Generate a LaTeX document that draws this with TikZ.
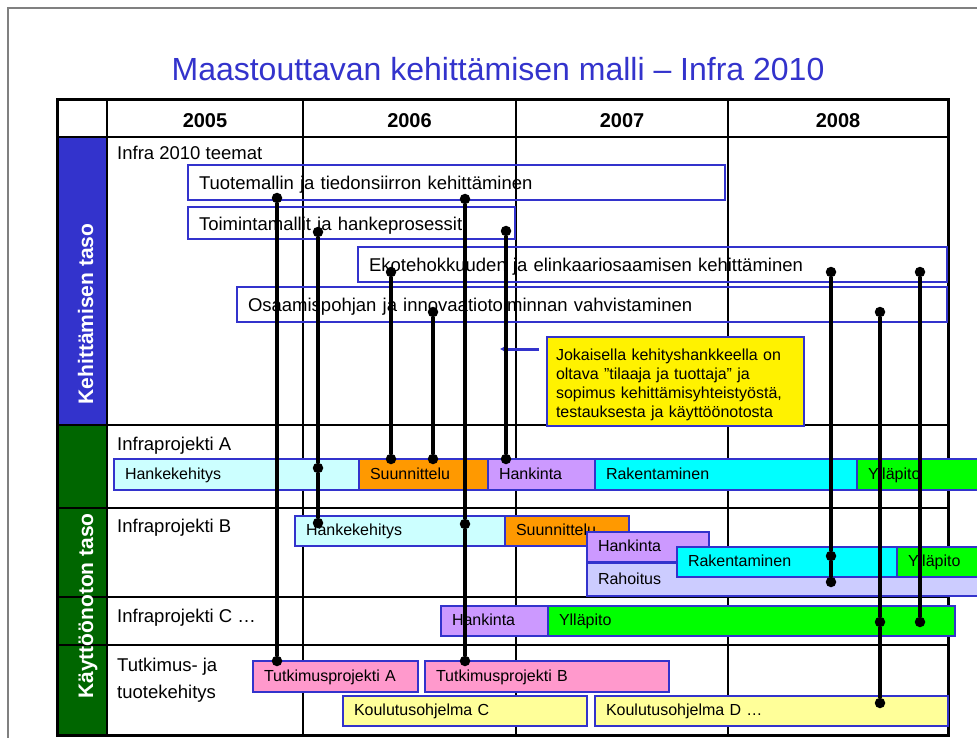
\documentclass[tikz,border=0pt]{standalone}
\usepackage{fontspec}
\setmainfont{Liberation Sans}
\usetikzlibrary{arrows.meta,positioning}
\definecolor{sininen}{HTML}{3333CC}
\definecolor{vihrea}{HTML}{006600}
\definecolor{kehys}{HTML}{808080}
\definecolor{hkvari}{HTML}{CCFFFF}
\definecolor{suvari}{HTML}{FF9900}
\definecolor{havari}{HTML}{CC99FF}
\definecolor{ravari}{HTML}{00FFFF}
\definecolor{ylvari}{HTML}{00FF00}
\definecolor{rhvari}{HTML}{CCCCFF}
\definecolor{tkvari}{HTML}{FF99CC}
\definecolor{kovari}{HTML}{FFFF99}
\begin{document}
\begin{tikzpicture}[x=1pt, y=-1pt,
  ruudukko/.style={line width=1.5pt},
  teema/.style={draw=sininen, line width=1.8pt, anchor=north west, outer sep=0pt,
    inner xsep=11pt, inner ysep=0pt, align=left, text height=14pt, text depth=0pt,
    font=\fontsize{18.5}{22}\selectfont},
  vaihe/.style={draw=sininen, line width=1.4pt, anchor=north west, outer sep=0pt,
    inner xsep=11pt, inner ysep=0pt, align=left, text height=11pt, text depth=2pt,
    font=\fontsize{16}{19}\selectfont},
  rivi/.style={anchor=base west, inner sep=0pt, font=\fontsize{18.5}{22}\selectfont},
  vuosi/.style={anchor=base, inner sep=0pt, font=\bfseries\fontsize{20}{24}\selectfont},
  taso/.style={rotate=90, anchor=base, inner sep=0pt, text=white,
    font=\bfseries\fontsize{21}{24}\selectfont},
  piste/.style={circle, fill=black, inner sep=0pt, minimum size=10.5pt},
  yhteys/.style={line width=4pt},
  osoitin/.style={sininen, line width=3pt, shorten <=8pt, -{Latex[length=6pt,width=8pt]}}]
  \clip (0,0) rectangle (977,738);
  \fill[white] (0,0) rectangle (977,738);
  % kehys ja otsikko
  \draw[kehys, line width=2.5pt] (977,8) -- (8,8) -- (8,738);
  \node[anchor=base, text=sininen, font=\fontsize{32}{36}\selectfont] (otsikko) at (498,81)
    {Maastouttavan kehittämisen malli – Infra 2010};
  % tasot
  \fill[sininen] (57,137) rectangle (107,425);
  \fill[vihrea] (57,425) rectangle (107,735);
  % taulukko
  \foreach \y in {137,425,508,597,645}
    \draw[ruudukko] (57,\y) -- (948,\y);
  \foreach \x in {107,303,516,728}
    \draw[ruudukko] (\x,100) -- (\x,735);
  \draw[line width=3pt] (57,100) rectangle (948,735);
  \node[taso] (kehTaso) at (93,314) {Kehittämisen taso};
  \node[taso] (kayTaso) at (93,606) {Käyttöönoton taso};
  \foreach \x/\v in {205/2005, 409.5/2006, 622/2007, 838/2008}
    \node[vuosi] (v\v) at (\x,128) {\v};
  % rivien otsikot
  \node[rivi] (lTeemat) at (117,160) {Infra 2010 teemat};
  \node[rivi] (lA) at (117,450) {Infraprojekti A};
  \node[rivi] (lB) at (117,532) {Infraprojekti B};
  \node[rivi] (lC) at (117,622) {Infraprojekti C …};
  \node[rivi] (lT1) at (117,671) {Tutkimus- ja};
  \node[rivi] (lT2) at (117,698) {tuotekehitys};
  % teemat
  \node[teema, text width=515pt, minimum height=35pt] (th1) at (188,165)
    {Tuotemallin ja tiedonsiirron kehittäminen};
  \node[teema, text width=305pt, minimum height=32pt] (th2) at (188,207)
    {Toimintamallit ja hankeprosessit};
  \node[teema, text width=567pt, minimum height=35pt] (th3) at (358,247)
    {Ekotehokkuuden ja elinkaariosaamisen kehittäminen};
  \node[teema, text width=688pt, minimum height=35pt] (th4) at (237,287)
    {Osaamispohjan ja innovaatiotoiminnan vahvistaminen};
  % huomautus
  \node[draw=sininen, line width=1.4pt, fill=yellow, anchor=north west, outer sep=0pt,
    inner xsep=9pt, text width=239pt, minimum height=89pt, align=left,
    text height=15pt, text depth=58pt,
    font=\fontsize{16}{19}\selectfont] (note) at (547,337)
    {Jokaisella kehityshankkeella on\\oltava ”tilaaja ja tuottaja”  ja\\
     sopimus kehittämisyhteistyöstä,\\testauksesta ja käyttöönotosta};
  \coordinate (noteTip) at (500,349);
  \draw[osoitin] (note.west |- noteTip) -- (noteTip);
  % Infraprojekti A
  \node[vaihe, fill=hkvari, text width=223pt, minimum height=31pt] (aHk) at (114,459) {Hankekehitys};
  \node[vaihe, fill=suvari, text width=107pt, minimum height=31pt, right=0pt of aHk] (aSu) {Suunnittelu};
  \node[vaihe, fill=havari, text width=85pt, minimum height=31pt, right=0pt of aSu] (aHa) {Hankinta};
  \node[vaihe, fill=ravari, text width=240pt, minimum height=31pt, right=0pt of aHa] (aRa) {Rakentaminen};
  \node[vaihe, fill=ylvari, text width=111pt, minimum height=31pt, right=0pt of aRa] (aYl) {Ylläpito};
  % Infraprojekti B
  \node[vaihe, fill=hkvari, text width=188pt, minimum height=30pt] (bHk) at (295,516) {Hankekehitys};
  \node[vaihe, fill=suvari, text width=102pt, minimum height=30pt, right=0pt of bHk] (bSu) {Suunnittelu};
  \node[vaihe, fill=havari, text width=100pt, minimum height=30pt] (bHa) at (587,532) {Hankinta};
  \node[vaihe, fill=rhvari, text width=381pt, minimum height=33pt] (bRh) at (587,563) {Rahoitus};
  \node[vaihe, fill=ravari, text width=198pt, minimum height=30pt] (bRa) at (677,547) {Rakentaminen};
  \node[vaihe, fill=ylvari, text width=71pt, minimum height=30pt, right=0pt of bRa] (bYl) {Ylläpito};
  % Infraprojekti C
  \node[vaihe, fill=havari, text width=85pt, minimum height=30pt] (cHa) at (441,606) {Hankinta};
  \node[vaihe, fill=ylvari, text width=385pt, minimum height=30pt, right=0pt of cHa] (cYl) {Ylläpito};
  % tutkimus ja koulutus
  \node[vaihe, fill=tkvari, text width=143pt, minimum height=31pt] (tA) at (253,661) {Tutkimusprojekti A};
  \node[vaihe, fill=tkvari, text width=222pt, minimum height=31pt] (tB) at (425,661) {Tutkimusprojekti B};
  \node[vaihe, fill=kovari, text width=222pt, minimum height=30pt] (kC) at (343,696) {Koulutusohjelma C};
  \node[vaihe, fill=kovari, text width=331pt, minimum height=30pt] (kD) at (595,696) {Koulutusohjelma D …};
  % pisteet
  \node[piste] (d1a) at (277,198) {};
  \node[piste] (d1b) at (277,661) {};
  \node[piste] (d2a) at (318,232) {};
  \node[piste] (d2b) at (318,468) {};
  \node[piste] (d2c) at (318,523) {};
  \node[piste] (d3a) at (465,199) {};
  \node[piste] (d3b) at (465,524) {};
  \node[piste] (d3c) at (465,661) {};
  \node[piste] (d4a) at (506,231) {};
  \node[piste] (d4b) at (506,459) {};
  \node[piste] (d5a) at (391,272) {};
  \node[piste] (d5b) at (391,459) {};
  \node[piste] (d6a) at (433,312) {};
  \node[piste] (d6b) at (433,459) {};
  \node[piste] (d7a) at (831,272) {};
  \node[piste] (d7b) at (831,556) {};
  \node[piste] (d7c) at (831,582) {};
  \node[piste] (d8a) at (880,312) {};
  \node[piste] (d8b) at (880,622) {};
  \node[piste] (d8c) at (880,703) {};
  \node[piste] (d9a) at (920,272) {};
  \node[piste] (d9b) at (920,622) {};
  % yhteydet
  \draw[yhteys] (d1a) -- (d1b);
  \draw[yhteys] (d2a) -- (d2b) -- (d2c);
  \draw[yhteys] (d3a) -- (d3b) -- (d3c);
  \draw[yhteys] (d4a) -- (d4b);
  \draw[yhteys] (d5a) -- (d5b);
  \draw[yhteys] (d6a) -- (d6b);
  \draw[yhteys] (d7a) -- (d7b) -- (d7c);
  \draw[yhteys] (d8a) -- (d8b) -- (d8c);
  \draw[yhteys] (d9a) -- (d9b);
\end{tikzpicture}
\end{document}
